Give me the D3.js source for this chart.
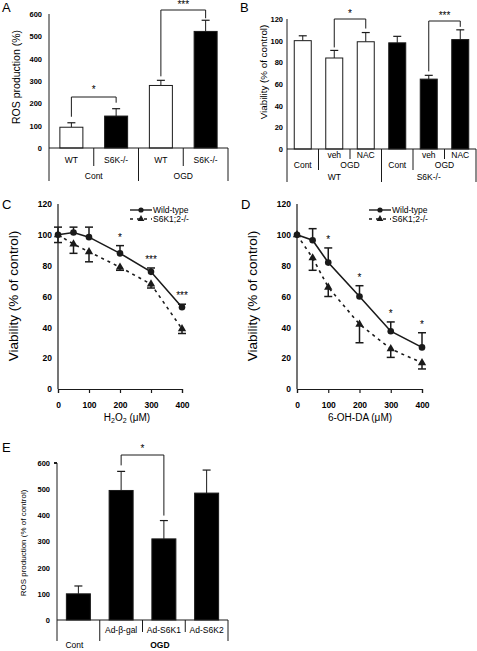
<!DOCTYPE html>
<html><head><meta charset="utf-8">
<script src="https://cdn.jsdelivr.net/npm/d3@7"></script>
<style>body{margin:0;background:#fff}svg{display:block;font-family:"Liberation Sans",Arial,sans-serif}text{fill:#000}</style>
</head><body>
<script>
// ---------- DATA ----------
// Panel A
const aSub = ["WT","S6K-/-","WT","S6K-/-"];
const aGroups = ["Cont","OGD"];
const aVals = [93,143,280,522];
const aErr = [20,33,23,50];
const aTicks = [0,100,200,300,400,500,600];
// Panel B
const bSub = ["Cont","veh","NAC","Cont","veh","NAC"];
const bMid = ["Cont","OGD","Cont","OGD"];
const bTop = ["WT","S6K-/-"];
const bVals = [100,84,99,98,64.5,101];
const bErr = [4.5,7,8.5,6,3.5,9];
const bTicks = [0,20,40,60,80,100,120];
// Panel C
const doses = [0,50,100,200,300,400];
const doseTicks = [0,100,200,300,400];
const cWt = [100,101.5,98.5,88,76,53];
const cWtErr = [5,3.5,6.5,5,2.5,2];
const cKo = [100,94,89,79,68,39];
const cKoErr = [5,6,6.5,2,2.5,3];
const cStars = [[200,"*"],[300,"***"],[400,"***"]];
// Panel D
const dWt = [100,96.5,82,60,37.5,27];
const dWtErr = [0,7.5,9.5,7,6,9.5];
const dKo = [100,85,66,42,26,17];
const dKoErr = [0,8,6,12,5.5,4];
const dStars = [[100,"*"],[200,"*"],[300,"*"],[400,"*"]];
const vTicks = [0,20,40,60,80,100,120];
const seriesNames = ["Wild-type","S6K1;2-/-"];
// Panel E
const eCats = ["Cont","Ad-β-gal","Ad-S6K1","Ad-S6K2"];
const eGroups = ["Cont","OGD"];
const eVals = [100,495,310,485];
const eErr = [30,73,70,88];
const eTicks = [0,100,200,300,400,500,600];

// ---------- DRAW ----------
const svg = d3.select("body").append("svg").attr("width",477).attr("height",651);
const INK = "#1a1a1a";

function letter(t,x,y){ svg.append("text").attr("x",x).attr("y",y).attr("font-size",13).text(t); }
function ylabel(t,x,y,size,bold){
  svg.append("text").attr("transform",`translate(${x},${y}) rotate(-90)`).attr("text-anchor","middle")
    .attr("font-size",size).attr("font-weight",bold?"bold":"normal").text(t);
}
function yAxis(y,x,ticks,size,pad){
  const g = svg.append("g").attr("transform",`translate(${x},0)`);
  g.call(d3.axisLeft(y).tickValues(ticks).tickSize(0).tickPadding(pad));
  g.select(".domain").remove();
  g.selectAll("text").attr("font-size",size).attr("font-weight","bold").attr("fill","#000");
}
function line(x1,y1,x2,y2,w){ svg.append("line").attr("x1",x1).attr("y1",y1).attr("x2",x2).attr("y2",y2).attr("stroke",INK).attr("stroke-width",w||1); }
function txt(t,x,y,size,opt){ const e=svg.append("text").attr("x",x).attr("y",y).attr("font-size",size).attr("text-anchor","middle").attr("fill","#000").text(t); if(opt&&opt.bold) e.attr("font-weight","bold"); return e; }
function bracket(x1,x2,yt,y1,y2,star,sy){
  svg.append("path").attr("d",`M${x1},${y1}V${yt}H${x2}V${y2}`).attr("fill","none").attr("stroke",INK).attr("stroke-width",1);
  txt(star,(x1+x2)/2,sy,10);
}
function bars(xs,y,vals,err,fills,bw){
  vals.forEach((v,i)=>{
    const cx = xs(i);
    svg.append("line").attr("x1",cx).attr("x2",cx).attr("y1",y(v)).attr("y2",y(v+err[i])).attr("stroke",INK);
    svg.append("line").attr("x1",cx-4).attr("x2",cx+4).attr("y1",y(v+err[i])).attr("y2",y(v+err[i])).attr("stroke",INK).attr("stroke-width",1.2);
    svg.append("rect").attr("x",cx-bw/2).attr("y",y(v)).attr("width",bw).attr("height",y(0)-y(v))
      .attr("fill",fills[i]).attr("stroke",INK).attr("stroke-width",1);
  });
}

// Panel A
{
  letter("A",2,12);
  const y = d3.scaleLinear().domain([0,600]).range([148,14]);
  const x = d3.scaleBand().domain(d3.range(aSub.length)).range([49,228]);
  const fills = aSub.map(s=>s==="WT"?"#fff":"#000");
  bars(i=>x(i)+x.bandwidth()/2,y,aVals,aErr,fills,23);
  yAxis(y,49,aTicks,7.5,7);
  line(49,14,49,181); line(49,148,228,148);
  aSub.forEach((s,i)=>{ txt(s,x(i)+x.bandwidth()/2,163,8.5); if(i%2===1) line(x(i),148,x(i),166); });
  aGroups.forEach((g,j)=>{ txt(g,x(j*2+1),179,8.5); line(x(j*2)+2*x.bandwidth(),148,x(j*2)+2*x.bandwidth(),181); });
  ylabel("ROS production (%)",20,77,10.5);
  const c = i=>x(i)+x.bandwidth()/2;
  bracket(c(0),c(1),97,y(aVals[0]+aErr[0])-6,y(aVals[1]+aErr[1])-6,"*",93);
  bracket(c(2),c(3),10,y(aVals[2]+aErr[2])-4,y(aVals[3]+aErr[3])-2,"***",8);
}
// Panel B
{
  letter("B",240,12);
  const y = d3.scaleLinear().domain([0,120]).range([149,19]);
  const x = d3.scaleBand().domain(d3.range(bSub.length)).range([287,476]);
  const c = i=>x(i)+x.bandwidth()/2;
  const fills = bSub.map((s,i)=>i<3?"#fff":"#000");
  bars(c,y,bVals,bErr,fills,17);
  yAxis(y,287,bTicks,7.5,4);
  line(287,19,287,182); line(287,149,476,149);
  const bw = x.bandwidth();
  bSub.forEach((s,i)=>{ if(s!=="Cont") txt(s,c(i),158,8.5); });
  [1,4].forEach((i,k)=>{ txt(bMid[2*k],c(i-1),168,8.5); txt(bMid[2*k+1],x(i)+bw,168,8.5); line(x(i)+bw,149,x(i)+bw,159); line(x(i),149,x(i),170); });
  bTop.forEach((t,j)=>{ txt(t,x(j*3)+1.5*bw,180,8.5); line(x(j*3)+3*bw,149,x(j*3)+3*bw,182); });
  ylabel("Viability (% of control)",267,72,9.8);
  bracket(c(1),c(2),19,y(bVals[1]+bErr[1])-3,y(bVals[2]+bErr[2])-4,"*",17);
  bracket(c(4),c(5),21,y(bVals[4]+bErr[4])-4,y(bVals[5]+bErr[5])-3,"***",19);
}
// Panels C, D
function linePanel(L,x0,x1,wt,wtErr,ko,koErr,stars){
  letter(L,x0-56,209);
  const y = d3.scaleLinear().domain([0,120]).range([389,204]);
  const x = d3.scaleLinear().domain([0,400]).range([x0,x1]);
  line(x0,204,x0,389,1.2);
  const g = svg.append("g").attr("transform","translate(0,389)");
  g.call(d3.axisBottom(x).tickValues(doseTicks).tickSize(4).tickPadding(9).tickFormat(d3.format("d")));
  g.select(".domain").attr("stroke",INK).attr("stroke-width",1.2);
  g.selectAll(".tick line").attr("stroke",INK).attr("stroke-width",1.2);
  g.selectAll("text").attr("font-size",8.5).attr("font-weight","bold").attr("fill","#000");
  yAxis(y,x0,vTicks,8.5,6);
  doses.forEach((d,i)=>{
    [[wt,wtErr,-1],[ko,koErr,1]].forEach(([v,e,s])=>{
      if(!e[i]) return;
      const y1=y(v[i]), y2=y(v[i]-s*e[i]);
      line(x(d),y1,x(d),y2,1.5); line(x(d)-4,y2,x(d)+4,y2,1.5);
    });
  });
  const ln = d3.line().x((d,i)=>x(doses[i])).y(d=>y(d));
  svg.append("path").attr("d",ln(ko)).attr("fill","none").attr("stroke",INK).attr("stroke-width",1.6).attr("stroke-dasharray","3,4");
  svg.append("path").attr("d",ln(wt)).attr("fill","none").attr("stroke",INK).attr("stroke-width",1.6);
  const tri = d3.symbol().type(d3.symbolTriangle).size(30);
  ko.forEach((v,i)=>svg.append("path").attr("d",tri()).attr("transform",`translate(${x(doses[i])},${y(v)})`).attr("fill",INK));
  wt.forEach((v,i)=>svg.append("circle").attr("cx",x(doses[i])).attr("cy",y(v)).attr("r",3.3).attr("fill",INK));
  stars.forEach(([d,s])=>{
    const i=doses.indexOf(d); txt(s,x(d),y(wt[i]+wtErr[i])-5,10);
  });
  const lx = x0+72;
  line(lx,210,lx+22,210,1.4); svg.append("circle").attr("cx",lx+11).attr("cy",210).attr("r",2.6).attr("fill",INK);
  svg.append("line").attr("x1",lx).attr("x2",lx+22).attr("y1",219).attr("y2",219).attr("stroke",INK).attr("stroke-width",1.4).attr("stroke-dasharray","3,4");
  svg.append("path").attr("d",tri.size(20)()).attr("transform",`translate(${lx+11},219)`).attr("fill",INK);
  svg.append("text").attr("x",lx+23).attr("y",213).attr("font-size",8.5).text(seriesNames[0]);
  svg.append("text").attr("x",lx+23).attr("y",222).attr("font-size",8.5).text(seriesNames[1]);
  ylabel("Viability (% of control)",x0-40,296,13.5,false);
  return x;
}
{
  linePanel("C",58,182,cWt,cWtErr,cKo,cKoErr,cStars);
  const t = svg.append("text").attr("x",127).attr("y",421).attr("font-size",10).attr("text-anchor","middle");
  t.append("tspan").text("H");
  t.append("tspan").attr("font-size",7).attr("dy",2).text("2");
  t.append("tspan").attr("dy",-2).text("O");
  t.append("tspan").attr("font-size",7).attr("dy",2).text("2");
  t.append("tspan").attr("dy",-2).text(" (μM)");
  linePanel("D",297,422,dWt,dWtErr,dKo,dKoErr,dStars);
  txt("6-OH-DA (μM)",360,421,10);
}
// Panel E
{
  letter("E",2,452);
  const y = d3.scaleLinear().domain([0,600]).range([620,463]);
  const x = d3.scaleBand().domain(d3.range(eCats.length)).range([57,228]);
  const c = i=>x(i)+x.bandwidth()/2;
  bars(c,y,eVals,eErr,eCats.map(()=>"#000"),24);
  yAxis(y,57,eTicks,7.5,7);
  line(57,463,57,641); line(57,620,228,620); line(54,463,57,463,2);
  eCats.forEach((s,i)=>{ if(i>0) txt(s,c(i),633,8.5); });
  txt(eGroups[0],c(0)-4,648,8.5);
  txt(eGroups[1],(x(1)+228)/2-4,648,8.5,{bold:true});
  line(x(1),620,x(1),641); line(x(3),620,x(3),632); line(x(2),620,x(2),632); line(228,620,228,641);
  ylabel("ROS production (% of control)",26,543,8);
  bracket(c(1),c(2),455,y(eVals[1]+eErr[1])-6,y(eVals[2]+eErr[2])-5,"*",452);
}
</script>
</body></html>
